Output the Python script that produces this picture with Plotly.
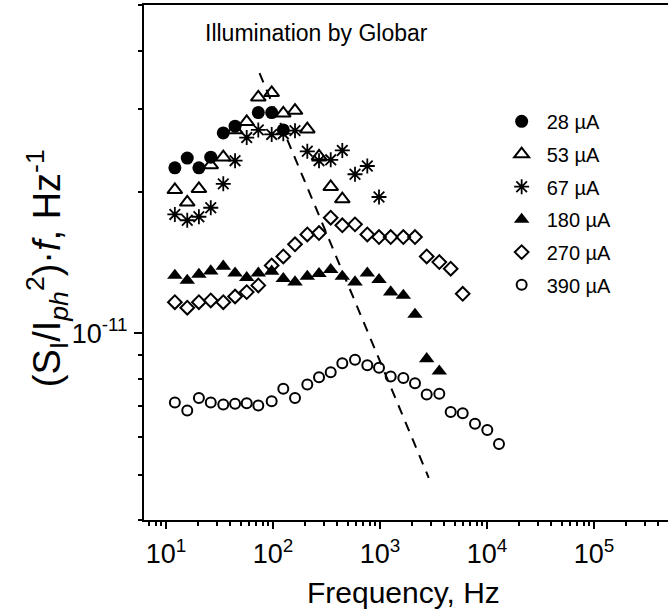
import math
import plotly.graph_objects as go

# ---------------- data ----------------
f28 = [12.1, 15.8, 20.3, 26.2, 34.3, 44.2, 72.9, 97.2, 124.8]
s28 = [2.25e-11, 2.36e-11, 2.25e-11, 2.37e-11, 2.67e-11, 2.76e-11, 2.95e-11, 2.95e-11, 2.71e-11]

f53 = [12.1, 15.8, 20.3, 26.2, 34.3, 44.2, 56.8, 72.9, 97.2, 124.8, 160.6, 209.2, 269.2, 346.2, 444.4]
s53 = [2.02e-11, 1.90e-11, 2.03e-11, 2.28e-11, 2.37e-11, 2.71e-11, 2.82e-11, 3.18e-11, 3.25e-11,
       2.94e-11, 2.98e-11, 2.72e-11, 2.38e-11, 2.05e-11, 1.93e-11]

f67 = [12.1, 15.8, 20.3, 26.2, 34.3, 44.2, 56.8, 72.9, 97.2, 124.8, 160.6, 209.2, 269.2, 346.2, 444.4,
       584, 761, 979]
s67 = [1.79e-11, 1.74e-11, 1.77e-11, 1.85e-11, 2.08e-11, 2.33e-11, 2.61e-11, 2.71e-11, 2.65e-11,
       2.66e-11, 2.70e-11, 2.44e-11, 2.33e-11, 2.34e-11, 2.45e-11, 2.18e-11, 2.27e-11, 1.95e-11]

f180 = [12.1, 15.8, 20.3, 26.2, 34.3, 44.2, 56.8, 72.9, 97.2, 124.8, 160.6, 209.2, 269.2, 346.2, 444.4,
        584, 761, 979, 1259, 1652, 2124, 2732, 3583]
s180 = [1.327e-11, 1.295e-11, 1.334e-11, 1.356e-11, 1.388e-11, 1.342e-11, 1.313e-11, 1.342e-11,
        1.354e-11, 1.306e-11, 1.285e-11, 1.321e-11, 1.339e-11, 1.365e-11, 1.321e-11, 1.285e-11,
        1.342e-11, 1.300e-11, 1.223e-11, 1.203e-11, 1.096e-11, 8.82e-12, 8.30e-12]

f270 = [12.1, 15.8, 20.3, 26.2, 34.3, 44.2, 56.8, 72.9, 97.2, 124.8, 160.6, 209.2, 269.2, 346.2, 444.4,
        584, 761, 979, 1259, 1652, 2124, 2732, 3583, 4579, 5929]
s270 = [1.164e-11, 1.133e-11, 1.164e-11, 1.174e-11, 1.164e-11, 1.197e-11, 1.223e-11, 1.264e-11,
        1.394e-11, 1.457e-11, 1.546e-11, 1.623e-11, 1.634e-11, 1.762e-11, 1.697e-11, 1.705e-11,
        1.623e-11, 1.602e-11, 1.602e-11, 1.602e-11, 1.602e-11, 1.457e-11, 1.417e-11, 1.372e-11,
        1.213e-11]

f390 = [12.1, 15.8, 20.3, 26.2, 34.3, 44.2, 56.8, 72.9, 97.2, 124.8, 160.6, 209.2, 269.2, 346.2, 444.4,
        584, 761, 979, 1259, 1652, 2124, 2732, 3583, 4579, 5929, 7725, 10065, 12945]
s390 = [7.12e-12, 6.84e-12, 7.28e-12, 7.12e-12, 7.05e-12, 7.07e-12, 7.09e-12, 7.01e-12, 7.16e-12,
        7.61e-12, 7.28e-12, 7.77e-12, 8.06e-12, 8.26e-12, 8.63e-12, 8.78e-12, 8.54e-12, 8.44e-12,
        8.09e-12, 8.03e-12, 7.82e-12, 7.40e-12, 7.43e-12, 6.79e-12, 6.75e-12, 6.41e-12, 6.22e-12,
        5.81e-12]

# dashed guide line (end points)
f_dash = [74.8, 2852]
s_dash = [3.58e-11, 4.92e-12]

series_names = ["28 µA", "53 µA", "67 µA", "180 µA", "270 µA", "390 µA"]

x_tickvals = [1e1, 1e2, 1e3, 1e4, 1e5]
x_ticktext = ["10<sup>1</sup>", "10<sup>2</sup>", "10<sup>3</sup>", "10<sup>4</sup>", "10<sup>5</sup>"]
y_tickvals = [1e-11]
y_ticktext = ["10<sup>-11</sup>"]

title_text = "Illumination by Globar"
x_title = "Frequency, Hz"
y_title = "(S<sub>I</sub>/I<sub><i>ph</i></sub><sup>2</sup>)·<i>f</i>, Hz<sup>-1</sup>"

# ---------------- figure ----------------
FONT = "Liberation Sans, Arial, Helvetica, sans-serif"
fig = go.Figure()

styles = [
    dict(symbol="circle", size=13, color="black", line=dict(width=0)),
    dict(symbol="triangle-up-open", size=13, color="black", line=dict(width=2, color="black")),
    dict(symbol="asterisk-open", size=12.5, color="black", line=dict(width=1.8, color="black")),
    dict(symbol="triangle-up", size=13.5, color="black", line=dict(width=0)),
    dict(symbol="diamond-open", size=10.5, color="black", line=dict(width=2, color="black")),
    dict(symbol="circle-open", size=10, color="black", line=dict(width=2, color="black")),
]
data = [(f28, s28), (f53, s53), (f67, s67), (f180, s180), (f270, s270), (f390, s390)]

for (fx, sy), name, st in zip(data, series_names, styles):
    fig.add_trace(go.Scatter(x=fx, y=sy, mode="markers", name=name, marker=st,
                             legendgroup=name))

fig.add_trace(go.Scatter(x=f_dash, y=s_dash, mode="lines", showlegend=False,
                         line=dict(color="black", width=2, dash="10px,8px")))

x_minor = [d * 10 ** e for e in range(0, 6) for d in range(2, 10)]
y_minor = [d * 1e-12 for d in range(4, 10)] + [d * 1e-11 for d in range(2, 6)]

fig.update_layout(
    width=668, height=616,
    margin=dict(l=144, r=0, t=5, b=96),
    paper_bgcolor="white", plot_bgcolor="white",
    font=dict(family=FONT, color="black"),
    showlegend=True,
    legend=dict(x=0.673, y=0.812, xanchor="left", yanchor="top",
                font=dict(size=20, family=FONT), bgcolor="rgba(0,0,0,0)",
                tracegroupgap=3.7, itemwidth=40),
    xaxis=dict(type="log", range=[0.7944, 5.6916], showline=True, linecolor="black",
               linewidth=2, mirror=True, ticks="outside", ticklen=7, tickwidth=2,
               tickcolor="black", tickvals=x_tickvals, ticktext=x_ticktext,
               tickfont=dict(size=27, family=FONT), showgrid=False, zeroline=False,
               ticklabelstandoff=2,
               minor=dict(tickvals=x_minor, ticks="outside", ticklen=4, tickwidth=1.5,
                          tickcolor="black", showgrid=False)),
    yaxis=dict(type="log", range=[math.log10(4e-12), math.log10(5e-11)], showline=True,
               linecolor="black", linewidth=2, ticks="outside", ticklen=8, tickwidth=2,
               tickcolor="black", tickvals=y_tickvals, ticktext=y_ticktext,
               tickfont=dict(size=27, family=FONT), showgrid=False, zeroline=False,
               ticklabelstandoff=1,
               minor=dict(tickvals=y_minor, ticks="outside", ticklen=4, tickwidth=1.5,
                          tickcolor="black", showgrid=False)),
    annotations=[
        dict(text=title_text, xref="paper", yref="paper", x=0.112, y=0.9456,
             xanchor="left", yanchor="middle", showarrow=False,
             font=dict(size=23, family=FONT)),
        dict(text=x_title, xref="paper", yref="paper", x=0.495, y=-0.1400,
             xanchor="center", yanchor="middle", showarrow=False,
             font=dict(size=30, family=FONT)),
        dict(text=y_title, xref="paper", yref="paper", x=-0.185, y=0.489,
             xanchor="center", yanchor="middle", showarrow=False, textangle=-90,
             font=dict(size=38, family=FONT)),
    ],
)

fig.write_html("out.html")
